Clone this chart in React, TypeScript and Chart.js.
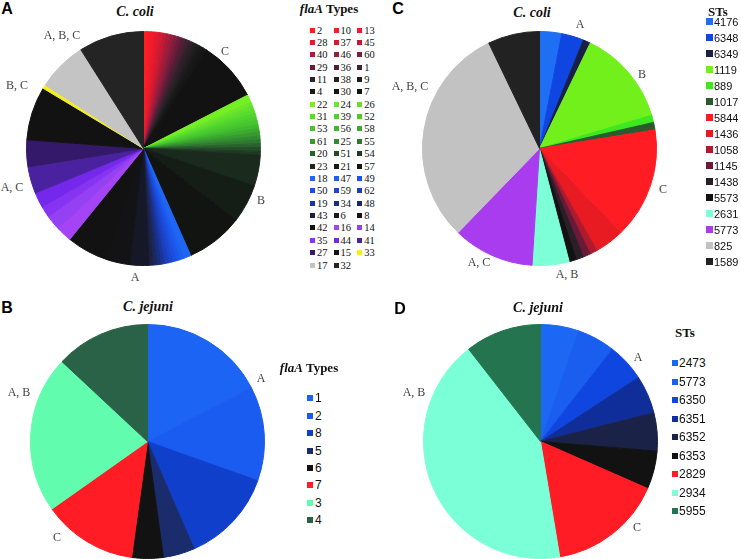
import React, { useEffect, useRef } from "react";
import { Chart, registerables } from "chart.js";

Chart.register(...registerables);

// ---------- Panel A: C. coli flaA types ----------
const flaColiTypes = ["2","10","13","28","37","45","40","46","60","29","36","1","11","38","9","4","30","7","22","24","26","31","39","52","53","56","58","61","25","55","20","51","54","23","21","57","18","47","49","50","59","62","19","34","48","43","6","8","42","16","14","35","44","41","27","15","33","17","32"];
const flaColiCounts = [1,1,1,1,1,1,1,1,1,1,1,1,1,1,1,1,1,16,2,1,1,1,1,1,1,1,1,1,1,1,1,1,1,8,10,15,2,1,1,1,1,1,1,1,1,1,5,6,11,4,4,3,4,7,7,14,1,13,17];
const flaColiColors = ["#ff1f1f","#f81c26","#f01a2a","#e41a2c","#d41a30","#c21a34","#ac1a38","#961c3c","#801c3c","#6a1c3a","#561c36","#422030","#30202a","#262024","#1e1c1e","#181818","#151515","#121212","#74f024","#6ae828","#62e02a","#58dc2c","#50d42c","#4acc2e","#44c42e","#40b82e","#3aaa2e","#369a30","#328a30","#2e7830","#2a622e","#244c2a","#1e3a22","#1a2a1c","#151e16","#121412","#2066f4","#1c5ef0","#1a56ea","#1a4ee0","#1a46d0","#1a3ebc","#1a369e","#1a2e80","#1a2862","#1a2244","#161828","#131316","#121212","#a444f4","#9640f4","#8634f2","#7428ec","#4a22a0","#34196a","#121212","#f4f020","#c4c4c4","#242424"];

// ---------- Panel B: C. jejuni flaA types ----------
const flaJejTypes = ["1","2","8","5","6","7","3","4"];
const flaJejCounts = [4,3,3,1,1,3,5,3];
const flaJejColors = ["#1c64f4","#1a5cf0","#103fcc","#1a2c6c","#121212","#ff1c24","#62fcae","#2a6248"];

// ---------- Panel C: C. coli STs ----------
const stColiTypes = ["4176","6348","6349","1119","889","1017","5844","1436","1058","1145","1438","5573","2631","5773","825","1589"];
const stColiCounts = [3,3,1,13,1,1,15,4,1,1,1,1,5,11,30,7];
const stColiColors = ["#1f6ff5","#0f45e0","#1a1f48","#72f01c","#3ce81e","#2a5a2e","#ff1c22","#e81a22","#b01a2e","#6a1a38","#2a1e28","#121212","#7dffd8","#aa3cf0","#c2c2c2","#222222"];

// ---------- Panel D: C. jejuni STs ----------
const stJejTypes = ["2473","5773","6350","6351","6352","6353","2829","2934","5955"];
const stJejCounts = [1,1,1,1,1,1,3,8,2];
const stJejColors = ["#1c68f4","#1a5ef0","#1046e0","#102e9a","#1a2248","#121212","#ff1c24","#7affd6","#257450"];

// ---------- group labels around the pies ----------
const labelsA = ["C","B","A","A, C","B, C","A, B, C"];
const labelsB = ["A","A, B","C"];
const labelsC = ["A","B","C","A, B","A, C","A, B, C"];
const labelsD = ["A","A, B","C"];

// layout (page coordinates)
const R = 117;
const posA = [[225,51],[261,200],[135,277],[12,187],[17,85],[62,35]];
const posB = [[261,378],[19,392],[57,537]];
const posC = [[580,24],[642,74],[663,189],[567,274],[479,262],[410,86]];
const posD = [[638,357],[414,392],[637,527]];

function Pie({ cx, cy, labels, values, colors }: { cx: number; cy: number; labels: string[]; values: number[]; colors: string[] }) {
  const ref = useRef<HTMLCanvasElement | null>(null);
  useEffect(() => {
    if (!ref.current) return;
    const chart = new Chart(ref.current, {
      type: "pie",
      data: {
        labels,
        datasets: [{ data: values, backgroundColor: colors, borderColor: colors, borderWidth: 1 }],
      },
      options: {
        responsive: false,
        animation: false,
        devicePixelRatio: 1,
        layout: { padding: 0 },
        plugins: { legend: { display: false }, tooltip: { enabled: false }, title: { display: false } },
      },
    });
    return () => chart.destroy();
  }, []);
  const size = 2 * R + 1;
  return (
    <canvas
      ref={ref}
      width={size}
      height={size}
      style={{ position: "absolute", left: cx - size / 2, top: cy - size / 2, width: size, height: size }}
    />
  );
}

function Txt({ x, y, children, style }: { x: number; y: number; children: any; style?: any }) {
  return (
    <div
      style={{
        position: "absolute",
        left: x,
        top: y,
        transform: "translate(-50%,-50%)",
        whiteSpace: "nowrap",
        lineHeight: 1,
        ...style,
      }}
    >
      {children}
    </div>
  );
}

function Legend({ items, colors, x, y, rowH, colW, cols, sq, gap, font }: { items: string[]; colors: string[]; x: number; y: number; rowH: number; colW: number; cols: number; sq: number; gap: number; font: string }) {
  return (
    <>
      {items.map((t, i) => {
        const r = Math.floor(i / cols);
        const c = i % cols;
        const top = y + r * rowH;
        const left = x + c * colW;
        return (
          <div key={i} style={{ position: "absolute", left, top: top - 8, height: 16, display: "flex", alignItems: "center", whiteSpace: "nowrap", font, color: "#111" }}>
            <span style={{ display: "inline-block", width: sq, height: sq, background: colors[i], marginRight: gap }} />
            <span>{t}</span>
          </div>
        );
      })}
    </>
  );
}

const serif = '"Liberation Serif", "Times New Roman", serif';
const sans = '"Liberation Sans", Arial, sans-serif';
const lblStyle = { font: `12px ${serif}`, color: "#444" };
const titleStyle = { font: `bold italic 14px ${serif}`, color: "#111" };
const letterStyle = { font: `bold 16px ${sans}`, color: "#000" };
const legTitleStyle = { font: `bold 13px ${serif}`, color: "#111" };

export default function App() {
  return (
    <div style={{ position: "absolute", left: 0, top: 0, width: 741, height: 559, background: "#fff", overflow: "hidden" }}>
      {/* Panel A */}
      <Txt x={7} y={9} style={letterStyle}>A</Txt>
      <Txt x={135} y={12} style={titleStyle}>C. coli</Txt>
      <Pie cx={143} cy={148} labels={flaColiTypes} values={flaColiCounts} colors={flaColiColors} />
      {labelsA.map((t, i) => <Txt key={"a" + i} x={posA[i][0]} y={posA[i][1]} style={lblStyle}>{t}</Txt>)}
      <Txt x={329} y={9} style={legTitleStyle}><i>flaA</i> Types</Txt>
      <Legend items={flaColiTypes} colors={flaColiColors} x={310} y={30} rowH={12.37} colW={23.6} cols={3} sq={5} gap={2} font={`10.5px ${serif}`} />

      {/* Panel B */}
      <Txt x={7} y={308} style={letterStyle}>B</Txt>
      <Txt x={148} y={307} style={titleStyle}>C. jejuni</Txt>
      <Pie cx={147.5} cy={441} labels={flaJejTypes} values={flaJejCounts} colors={flaJejColors} />
      {labelsB.map((t, i) => <Txt key={"b" + i} x={posB[i][0]} y={posB[i][1]} style={lblStyle}>{t}</Txt>)}
      <Txt x={309} y={368} style={legTitleStyle}><i>flaA</i> Types</Txt>
      <Legend items={flaJejTypes} colors={flaJejColors} x={307} y={398.3} rowH={17.4} colW={0} cols={1} sq={6} gap={2} font={`12px ${sans}`} />

      {/* Panel C */}
      <Txt x={398} y={9} style={letterStyle}>C</Txt>
      <Txt x={532} y={13} style={titleStyle}>C. coli</Txt>
      <Pie cx={539.5} cy={148} labels={stColiTypes} values={stColiCounts} colors={stColiColors} />
      {labelsC.map((t, i) => <Txt key={"c" + i} x={posC[i][0]} y={posC[i][1]} style={lblStyle}>{t}</Txt>)}
      <Txt x={718} y={12} style={legTitleStyle}>STs</Txt>
      <Legend items={stColiTypes} colors={stColiColors} x={706} y={21.7} rowH={16} colW={0} cols={1} sq={7} gap={1} font={`11px ${sans}`} />

      {/* Panel D */}
      <Txt x={400} y={309} style={letterStyle}>D</Txt>
      <Txt x={538} y={308} style={titleStyle}>C. jejuni</Txt>
      <Pie cx={540} cy={441.5} labels={stJejTypes} values={stJejCounts} colors={stJejColors} />
      {labelsD.map((t, i) => <Txt key={"d" + i} x={posD[i][0]} y={posD[i][1]} style={lblStyle}>{t}</Txt>)}
      <Txt x={685} y={333} style={legTitleStyle}>STs</Txt>
      <Legend items={stJejTypes} colors={stJejColors} x={672} y={363.3} rowH={18.46} colW={0} cols={1} sq={6} gap={1} font={`12px ${sans}`} />
    </div>
  );
}
